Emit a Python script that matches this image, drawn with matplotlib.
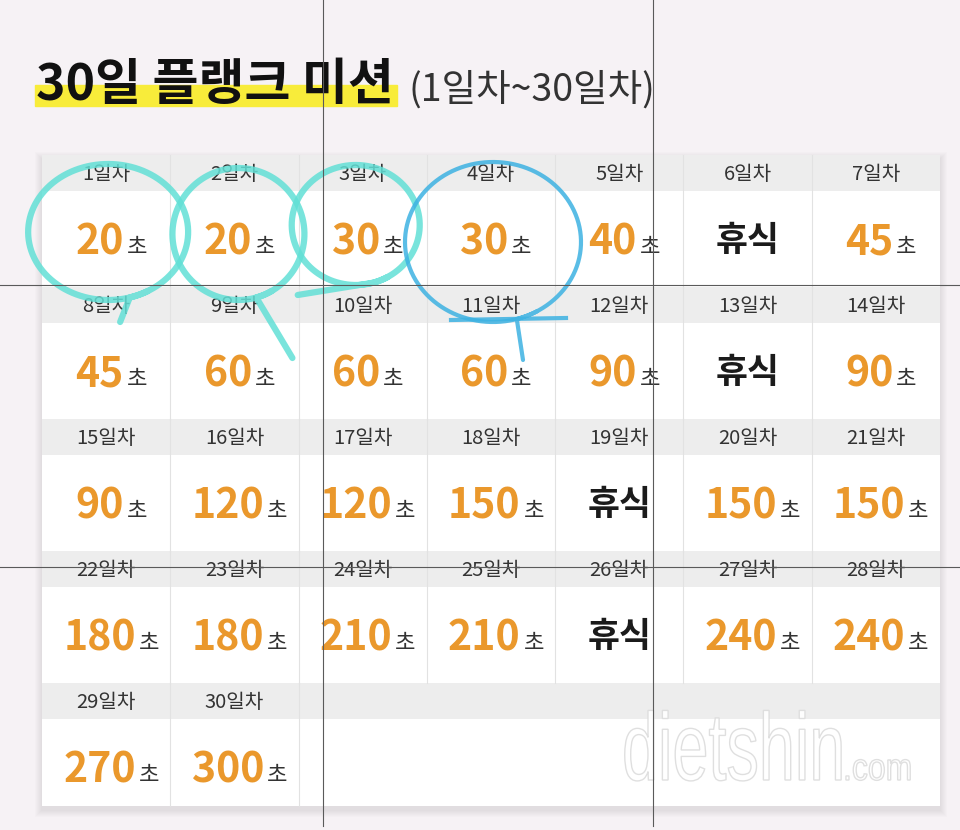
import numpy as np
import matplotlib.pyplot as plt
from matplotlib.patches import Rectangle, PathPatch
from matplotlib.offsetbox import TextArea, HPacker, AnnotationBbox
from matplotlib.textpath import TextPath
from matplotlib.font_manager import FontProperties
import matplotlib.transforms as mtransforms

plt.rcParams['font.family'] = ['Noto Sans CJK KR', 'DejaVu Sans']

# data
title = '30일 플랭크 미션'
subtitle = '(1일차~30일차)'
days = list(range(1, 31))
day_labels = [f'{d}일차' for d in days]
# None = rest day
seconds = [20, 20, 30, 30, 40, None, 45,
           45, 60, 60, 60, 90, None, 90,
           90, 120, 120, 150, None, 150, 150,
           180, 180, 210, 210, None, 240, 240,
           270, 300]
rest_label = '휴식'
unit = '초'
marked_days = [1, 2, 3, 4]

# layout
W, H = 960, 830
x0, x1 = 42, 940
top = 155
ncol = 7
colw = (x1 - x0) / ncol
pitch = 132
band = 36
nrows = int(np.ceil(len(days) / ncol))
bottom = 806

orange = '#ea982c'

fig = plt.figure(figsize=(9.6, 8.3), dpi=100)
fig.patch.set_facecolor('#f6f2f5')
ax = fig.add_axes([0, 0, 1, 1])
ax.set_xlim(0, W)
ax.set_ylim(H, 0)
ax.axis('off')

# title
ax.add_patch(Rectangle((35, 85), 362, 21, color='#f8ec3a', zorder=1))
ax.text(36, 100, title, fontsize=36, fontweight='black', color='#111111',
        va='baseline', ha='left', zorder=2)
ax.text(408, 101, subtitle, fontsize=27, fontweight='light', color='#333333',
        va='baseline', ha='left', zorder=2)

# table shadow + body
for i in range(1, 8):
    ax.add_patch(Rectangle((x0 - i, top - i + 4), x1 - x0 + 2 * i, bottom - top + 2 * i,
                           color='#000000', alpha=0.012, lw=0, zorder=2))
ax.add_patch(Rectangle((x0, top), x1 - x0, bottom - top, color='white', lw=0, zorder=3))

for r in range(nrows):
    rt = top + r * pitch
    rb = min(rt + pitch, bottom)
    ax.add_patch(Rectangle((x0, rt), x1 - x0, band, color='#ededed', lw=0, zorder=3))
    n_in_row = min(ncol, len(days) - r * ncol)
    for c in range(1, n_in_row + (1 if n_in_row < ncol else 0)):
        xc = x0 + c * colw
        ax.plot([xc, xc], [rt, rb], color='#e2e2e2', lw=0.8, zorder=4)

# cells
for i, d in enumerate(days):
    r, c = divmod(i, ncol)
    rt = top + r * pitch
    cx = x0 + (c + 0.5) * colw
    ax.text(cx, rt + band / 2 + 1, day_labels[i], fontsize=14.5, color='#333333',
            ha='center', va='center', zorder=5)
    cy = rt + 85
    v = seconds[i]
    if v is None:
        ax.text(cx, cy, rest_label, fontsize=25, fontweight='bold', color='#1b1b1b',
                ha='center', va='center', zorder=5)
    else:
        num = TextArea(str(v), textprops=dict(fontsize=29.5, fontweight='bold', color=orange))
        u = TextArea(unit, textprops=dict(fontsize=16, color='#333333'))
        box = HPacker(children=[num, u], align='baseline', pad=0, sep=2)
        ab = AnnotationBbox(box, (cx + 5, cy + 2), frameon=False, box_alignment=(0.5, 0.5),
                            pad=0, zorder=5)
        ax.add_artist(ab)

# watermark
fp = FontProperties(family=['Liberation Sans Narrow', 'Liberation Sans'])
for txt, xy, sx, sy, sz in [('dietshin', (622, 780), 1.08, 1.6, 60),
                            ('.com', (843, 780), 0.8, 0.95, 40)]:
    tp = TextPath((0, 0), txt, size=sz, prop=fp)
    tr = mtransforms.Affine2D().scale(sx, -sy).translate(*xy) + ax.transData
    ax.add_patch(PathPatch(tp, transform=tr, facecolor='white', edgecolor='#dcdcdc',
                           lw=1.0, alpha=0.9, zorder=6))

# hand-drawn check loops
mark_styles = {
    1: dict(off=(2, -8), rx=80, ry=68, tail=(14, 82), color='#62e0d6', lw=4.5),
    2: dict(off=(4, -6), rx=66, ry=66, tail=(58, 118), color='#62e0d6', lw=4.5),
    3: dict(off=(-7, -15), rx=64, ry=60, tail=(-65, 55), color='#62e0d6', lw=4.5),
    4: dict(off=(2, 2), rx=88, ry=80, tail=(32, 120), color='#3db2e2', lw=3.0),
}
for d in marked_days:
    r, c = divmod(d - 1, ncol)
    cx = x0 + (c + 0.5) * colw
    cy = top + r * pitch + 85
    st = mark_styles[d]
    t = np.linspace(np.pi / 3, np.pi / 3 + 2 * np.pi + 0.25, 120)
    lx = cx + st['off'][0] + st['rx'] * np.cos(t)
    ly = cy + st['off'][1] + st['ry'] * np.sin(t)
    lx = np.append(lx, cx + st['tail'][0])
    ly = np.append(ly, cy + st['tail'][1])
    ax.plot(lx, ly, color=st['color'], lw=st['lw'], alpha=0.85,
            solid_capstyle='round', zorder=7)
    if d == 4:
        ax.plot([cx - 40, cx + 75], [cy + 80, cy + 78], color=st['color'],
                lw=st['lw'], alpha=0.85, zorder=7)

# screen guide lines
for xv in [323, 653]:
    ax.plot([xv, xv], [0, 826], color='#5a5a5a', lw=0.8, zorder=8)
for yh in [285, 567]:
    ax.plot([0, W], [yh, yh], color='#5a5a5a', lw=0.8, zorder=8)

fig.savefig('out.png', dpi=100, facecolor=fig.get_facecolor())
